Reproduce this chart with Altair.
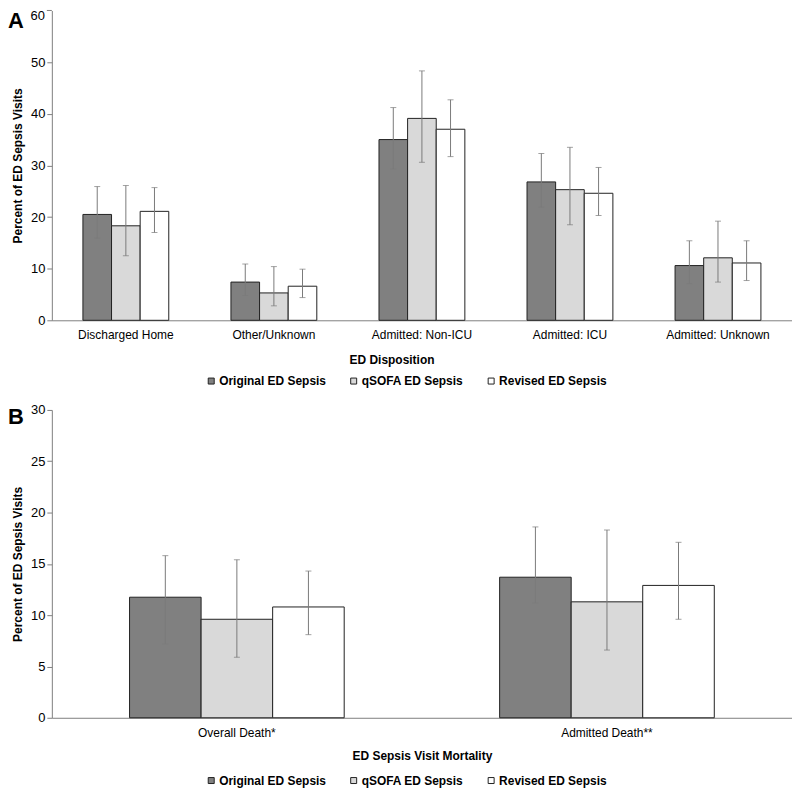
import altair as alt
import pandas as pd

series = ["Original ED Sepsis", "qSOFA ED Sepsis", "Revised ED Sepsis"]
fills = ["#808080", "#d9d9d9", "#ffffff"]

# Panel A: ED disposition
cats_a = ["Discharged Home", "Other/Unknown", "Admitted: Non-ICU", "Admitted: ICU", "Admitted: Unknown"]
orig_a = [20.5, 7.4, 35.0, 26.8, 10.6]
orig_a_lo = [15.9, 4.8, 29.3, 21.9, 7.1]
orig_a_hi = [25.9, 10.9, 41.2, 32.3, 15.4]
qsofa_a = [18.3, 5.3, 39.1, 25.3, 12.1]
qsofa_a_lo = [12.5, 2.8, 30.6, 18.5, 7.4]
qsofa_a_hi = [26.1, 10.4, 48.3, 33.5, 19.2]
rev_a = [21.1, 6.6, 37.0, 24.6, 11.1]
rev_a_lo = [17.0, 4.4, 31.7, 20.3, 7.7]
rev_a_hi = [25.7, 9.9, 42.7, 29.6, 15.4]

# Panel B: mortality
cats_b = ["Overall Death*", "Admitted Death**"]
orig_b = [11.75, 13.7]
orig_b_lo = [7.2, 11.2]
orig_b_hi = [15.8, 18.6]
qsofa_b = [9.6, 11.3]
qsofa_b_lo = [5.9, 6.6]
qsofa_b_hi = [15.4, 18.3]
rev_b = [10.8, 12.9]
rev_b_lo = [8.1, 9.6]
rev_b_hi = [14.3, 17.1]

y_ticks_a = [0, 10, 20, 30, 40, 50, 60]
y_ticks_b = [0, 5, 10, 15, 20, 25, 30]

FONT = "Liberation Sans"
Y_TITLE = "Percent of ED Sepsis Visits"


def build_df(cats, groups):
    rows = []
    for s, (vals, lo, hi) in zip(series, groups):
        for c, v, l, h in zip(cats, vals, lo, hi):
            rows.append({"cat": c, "series": s, "val": v, "lo": l, "hi": h})
    return pd.DataFrame(rows)


df_a = build_df(cats_a, [(orig_a, orig_a_lo, orig_a_hi),
                         (qsofa_a, qsofa_a_lo, qsofa_a_hi),
                         (rev_a, rev_a_lo, rev_a_hi)])
df_b = build_df(cats_b, [(orig_b, orig_b_lo, orig_b_hi),
                         (qsofa_b, qsofa_b_lo, qsofa_b_hi),
                         (rev_b, rev_b_lo, rev_b_hi)])


def panel(df, cats, xtitle, ymax, yticks, letter, letter_y, height,
          label_pad, title_pad, legend_y, title_x=None, top_label_as_text=False):
    axis_kw = dict(title=xtitle, labelAngle=0, ticks=False, labelPadding=label_pad,
                   titlePadding=title_pad, labelFontSize=12, labelFont=FONT,
                   labelColor="black", titleFontSize=12, titleFont=FONT,
                   titleFontWeight="bold", titleColor="black",
                   domainColor="#808080", domainWidth=1)
    if title_x is not None:
        axis_kw["titleX"] = title_x
    x = alt.X("cat:N", sort=cats,
              scale=alt.Scale(paddingInner=0.42, paddingOuter=0.21),
              axis=alt.Axis(**axis_kw))
    xoff = alt.XOffset("series:N", sort=series,
                       scale=alt.Scale(domain=series, paddingInner=0, paddingOuter=0))
    yscale = alt.Scale(domain=[0, ymax], nice=False)
    axis_values = yticks[:-1] if top_label_as_text else yticks
    yaxis = alt.Axis(values=axis_values, title=Y_TITLE,
                     grid=False, tickSize=5, tickColor="#808080",
                     domainColor="#808080", labelPadding=2,
                     labelFontSize=13, labelFont=FONT, labelColor="black",
                     titleFontSize=12, titleFont=FONT, titleFontWeight="bold",
                     titleColor="black", titlePadding=6)
    bars = alt.Chart(df).mark_bar(stroke="#222222", strokeWidth=1).encode(
        x=x, xOffset=xoff,
        y=alt.Y("val:Q", scale=yscale, axis=yaxis, title=Y_TITLE),
        fill=alt.Fill("series:N", sort=series,
                      scale=alt.Scale(domain=series, range=fills),
                      legend=alt.Legend(orient="none", legendX=154, legendY=legend_y,
                                        direction="horizontal", title=None,
                                        symbolType="square", symbolSize=36,
                                        symbolStrokeColor="#222222",
                                        symbolStrokeWidth=1, labelFontSize=12,
                                        labelFontWeight="bold", labelFont=FONT,
                                        labelColor="black", columnPadding=21,
                                        labelOffset=2)))
    rules = alt.Chart(df).mark_rule(color="#7a7a7a", strokeWidth=1).encode(
        x=x, xOffset=xoff,
        y=alt.Y("lo:Q", scale=yscale, axis=yaxis, title=Y_TITLE), y2="hi:Q")
    cap_hi = alt.Chart(df).mark_tick(color="#7a7a7a", size=6, thickness=1,
                                     orient="horizontal").encode(
        x=x, xOffset=xoff, y=alt.Y("hi:Q", scale=yscale, axis=yaxis, title=Y_TITLE))
    cap_lo = alt.Chart(df).mark_tick(color="#7a7a7a", size=6, thickness=1,
                                     orient="horizontal").encode(
        x=x, xOffset=xoff, y=alt.Y("lo:Q", scale=yscale, axis=yaxis, title=Y_TITLE))
    lab = alt.Chart(pd.DataFrame({"t": [letter]})).mark_text(
        align="left", baseline="alphabetic", fontSize=22, fontWeight="bold",
        font=FONT, color="black").encode(
        x=alt.value(-44), y=alt.value(letter_y), text="t:N")
    layers = [bars, rules, cap_hi, cap_lo, lab]
    if top_label_as_text:
        top_df = pd.DataFrame({"v": [yticks[-1]], "t": [str(yticks[-1])]})
        top_tick = alt.Chart(top_df).mark_rule(color="#808080", strokeWidth=1).encode(
            x=alt.value(-5), x2=alt.value(0),
            y=alt.Y("v:Q", scale=yscale, axis=yaxis, title=Y_TITLE))
        top_text = alt.Chart(top_df).mark_text(
            align="right", baseline="top", fontSize=13, font=FONT, color="black").encode(
            x=alt.value(-7), y=alt.Y("v:Q", scale=yscale, axis=yaxis, title=Y_TITLE),
            text="t:N")
        layers += [top_tick, top_text]
    return alt.layer(*layers).properties(width=743, height=height)


pa = panel(df_a, cats_a, "ED Disposition", 60, y_ticks_a, "A", 18, 311,
           label_pad=9, title_pad=14, legend_y=366, title_x=341, top_label_as_text=True)
pb = panel(df_b, cats_b, "ED Sepsis Visit Mortality", 30, y_ticks_b, "B", 14, 309,
           label_pad=10, title_pad=12, legend_y=366)

chart = alt.vconcat(pa, pb, spacing=17).resolve_scale(
    fill="independent", x="independent", xOffset="independent", y="independent"
).resolve_legend(fill="independent").properties(
    padding=0, background="white"
).configure_view(stroke=None)

chart.save("out.html", embed_options={"renderer": "svg", "actions": False})
